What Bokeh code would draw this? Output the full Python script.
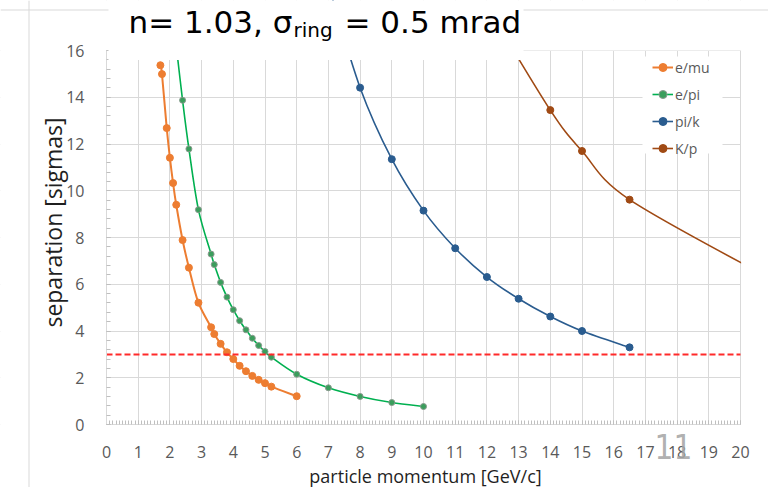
import math
from bokeh.plotting import figure
from bokeh.models import (Range1d, SingleIntervalTicker, Label, BoxAnnotation,
                          Legend, LegendItem, ColumnDataSource, Span)
from bokeh.embed import file_html
from bokeh.resources import INLINE

# ---------------- data ----------------
emu_p = [1.7, 1.75, 1.9, 2.0, 2.1, 2.2, 2.4, 2.6, 2.9, 3.3, 3.4, 3.6, 3.8, 4.0,
         4.2, 4.4, 4.6, 4.8, 5.0, 5.2, 6.0]
emu_sep = [15.37, 14.99, 12.68, 11.41, 10.33, 9.40, 7.89, 6.71, 5.21, 4.16, 3.87,
           3.45, 3.09, 2.80, 2.51, 2.28, 2.08, 1.91, 1.77, 1.62, 1.21]

epi_p = [2.2, 2.4, 2.6, 2.9, 3.3, 3.4, 3.6, 3.8, 4.0, 4.2, 4.4, 4.6, 4.8, 5.0,
         5.2, 6.0, 7.0, 8.0, 9.0, 10.0]
epi_sep = [16.2, 13.87, 11.79, 9.19, 7.29, 6.84, 6.08, 5.45, 4.91, 4.44, 4.05,
           3.69, 3.38, 3.12, 2.88, 2.15, 1.57, 1.20, 0.94, 0.77]

pik_p = [7.0, 8.0, 9.0, 10.0, 11.0, 12.0, 13.0, 14.0, 15.0, 16.5]
pik_sep = [18.8, 14.41, 11.35, 9.15, 7.54, 6.31, 5.38, 4.62, 4.00, 3.30]

kp_p = [12.0, 14.0, 15.0, 16.5, 21.0]
kp_sep = [17.9, 13.45, 11.70, 9.62, 6.20]

thresh_p = [0, 20]
thresh_sep = [3, 3]

series_names = ["e/mu", "e/pi", "pi/k", "K/p"]

title_main = "n= 1.03, \u03c3"
title_sub = "ring"
title_rest = "= 0.5 mrad"
x_title = "particle momentum [GeV/c]"
y_title = "separation [sigmas]"
page_number = "11"

X_MIN, X_MAX, X_STEP = 0, 20, 1
Y_MIN, Y_MAX, Y_STEP = 0, 16, 2

# ---------------- geometry (pixels) ----------------
W, H = 768, 487                 # figure size; the figure sits at the page's top-left
PL, PR, PT, PB = 106, 740, 50, 424   # plot area edges in page pixels
PXX = (PR - PL) / (X_MAX - X_MIN)
PXY = (PB - PT) / (Y_MAX - Y_MIN)
x_lo = X_MIN - PL / PXX
x_hi = x_lo + W / PXX
y_hi = Y_MAX + PT / PXY
y_lo = y_hi - H / PXY


def sy(py):
    """page y (from top) -> screen units of a label (from bottom)"""
    return H - py


def smooth_segments(xs, ys):
    """Bezier segments (Excel-like smoothing) through the given points."""
    n = len(xs)
    out = dict(x0=[], y0=[], x1=[], y1=[], cx0=[], cy0=[], cx1=[], cy1=[])
    for i in range(n - 1):
        a = i - 1 if i > 0 else i
        d = i + 2 if i + 2 < n else i + 1
        out["x0"].append(xs[i]); out["y0"].append(ys[i])
        out["x1"].append(xs[i + 1]); out["y1"].append(ys[i + 1])
        out["cx0"].append(xs[i] + (xs[i + 1] - xs[a]) / 6.0)
        out["cy0"].append(ys[i] + (ys[i + 1] - ys[a]) / 6.0)
        out["cx1"].append(xs[i + 1] - (xs[d] - xs[i]) / 6.0)
        out["cy1"].append(ys[i + 1] - (ys[d] - ys[i]) / 6.0)
    return ColumnDataSource(out)


p = figure(width=W, height=H, x_range=Range1d(x_lo, x_hi), y_range=Range1d(y_lo, y_hi),
           output_backend="svg", toolbar_location=None, min_border=0,
           outline_line_color=None, background_fill_color="white",
           border_fill_color="white")
p.title.visible = False

# grid
p.xgrid.grid_line_color = "#D9D9D9"
p.ygrid.grid_line_color = "#D9D9D9"

# axes placed at the data origin
xa = p.xaxis[0]
xa.ticker = SingleIntervalTicker(interval=X_STEP, num_minor_ticks=10)
xa.fixed_location = Y_MIN
xa.bounds = (X_MIN, X_MAX)
ya = p.yaxis[0]
ya.ticker = SingleIntervalTicker(interval=Y_STEP, num_minor_ticks=5)
ya.fixed_location = X_MIN
ya.bounds = (Y_MIN, Y_MAX)
for ax in (xa, ya):
    ax.axis_line_color = "#D9D9D9"
    ax.major_tick_line_color = "#BFBFBF"
    ax.minor_tick_line_color = "#BFBFBF"
    ax.major_tick_in = 4
    ax.major_tick_out = 0
    ax.minor_tick_in = 4
    ax.minor_tick_out = 0
    ax.major_label_text_font = "Open Sans"
    ax.major_label_text_font_size = "16px"
    ax.major_label_text_color = "#595959"
xa.major_label_standoff = 21
ya.major_label_standoff = 22
p.xgrid.ticker = xa.ticker
p.ygrid.ticker = ya.ticker
p.xgrid.bounds = (X_MIN, X_MAX)
p.ygrid.bounds = (Y_MIN, Y_MAX)

# white covers that keep the grid inside the plot area (drawn just above the grid)
for kw in (dict(left=x_lo, right=X_MIN, bottom=y_lo, top=y_hi),
           dict(left=X_MAX + 0.6 / PXX, right=x_hi, bottom=y_lo, top=y_hi),
           dict(left=x_lo, right=x_hi, bottom=y_lo, top=Y_MIN),
           dict(left=x_lo, right=x_hi, bottom=Y_MAX, top=y_hi)):
    p.add_layout(BoxAnnotation(level="underlay", fill_color="white", fill_alpha=1.0,
                               line_color=None, **kw))

styles = [
    (emu_p, emu_sep, "#ED7D31", "#ED7D31", 2.0, 7),
    (epi_p, epi_sep, "#00B050", "#3A9E5C", 1.6, 6),
    (pik_p, pik_sep, "#2A5C8F", "#2A5C8F", 1.6, 7),
    (kp_p, kp_sep, "#A04A14", "#A04A14", 1.6, 7),
]

items = []
for (xs, ys, lc, mc, lw, ms), name in zip(styles, series_names):
    src = smooth_segments(xs, ys)
    bz = p.bezier(x0="x0", y0="y0", x1="x1", y1="y1", cx0="cx0", cy0="cy0",
                  cx1="cx1", cy1="cy1", source=src, line_color=lc, line_width=lw)
    edge = "#8A9A8E" if name == "e/pi" else mc
    sc = p.scatter(xs, ys, size=ms, fill_color=mc, line_color=edge, line_width=1)
    items.append(LegendItem(label=name, renderers=[bz, sc]))

p.line(thresh_p, thresh_sep, line_color="#FF2A2A", line_width=2, line_dash="6 3")

# cover for the part of the K/p curve beyond the x range
p.add_layout(BoxAnnotation(left=X_MAX + 0.6 / PXX, right=x_hi, bottom=Y_MIN, top=Y_MAX,
                           fill_color="white", fill_alpha=1.0, line_color=None))

# slide frame lines
p.add_layout(Span(location=x_lo + 28.5 / PXX, dimension="height",
                  line_color="#D9D9D9", line_width=1))
p.add_layout(Span(location=y_hi - 9.5 / PXY, dimension="width",
                  line_color="#D9D9D9", line_width=1))

# white box of the title overlapping the top of the plot
p.add_layout(BoxAnnotation(left=X_MIN + 2 / PXX, right=X_MIN + 417 / PXX,
                           bottom=Y_MAX - 9.5 / PXY, top=y_hi,
                           fill_color="white", fill_alpha=1.0, line_color=None))
# white legend background
p.add_layout(BoxAnnotation(left=X_MIN + 536 / PXX, right=X_MIN + 616 / PXX,
                           bottom=Y_MAX - 103 / PXY, top=Y_MAX - 6 / PXY,
                           fill_color="white", fill_alpha=1.0, line_color=None))

legend = Legend(items=items, location=(652, sy(158)), padding=0, margin=0, spacing=7,
                glyph_width=21, glyph_height=20, label_height=20, label_standoff=2,
                label_text_font="Open Sans", label_text_font_size="14px",
                label_text_color="#595959", background_fill_alpha=0,
                border_line_alpha=0)
p.add_layout(legend)

# title pieces (screen units from the figure's bottom-left corner)
p.add_layout(Label(x=128, y=sy(21.5), x_units="screen", y_units="screen", text=title_main,
                   text_font="DejaVu Sans", text_font_size="31px", text_color="black",
                   text_baseline="middle"))
p.add_layout(Label(x=293, y=sy(29.5), x_units="screen", y_units="screen", text=title_sub,
                   text_font="DejaVu Sans", text_font_size="20px", text_color="black",
                   text_baseline="middle"))
p.add_layout(Label(x=344, y=sy(21.5), x_units="screen", y_units="screen", text=title_rest,
                   text_font="DejaVu Sans", text_font_size="31px", text_color="black",
                   text_baseline="middle"))

# axis titles
p.add_layout(Label(x=52, y=sy(222), x_units="screen", y_units="screen", text=y_title,
                   angle=math.pi / 2, text_align="center", text_baseline="middle",
                   text_font="Open Sans", text_font_size="23px", text_color="#1F1F1F"))
p.add_layout(Label(x=425, y=sy(475), x_units="screen", y_units="screen", text=x_title,
                   text_align="center", text_baseline="middle",
                   text_font="Open Sans", text_font_size="18px", text_color="#1F1F1F"))

# slide page number
p.add_layout(Label(x=654, y=sy(445.5), x_units="screen", y_units="screen", text=page_number,
                   text_font="'Liberation Sans Narrow', 'DejaVu Sans Condensed', sans-serif",
                   text_font_size="33px", text_color="#A6A6A6", text_alpha=0.9,
                   text_baseline="middle"))

open("out.html", "w").write(file_html(p, INLINE))
